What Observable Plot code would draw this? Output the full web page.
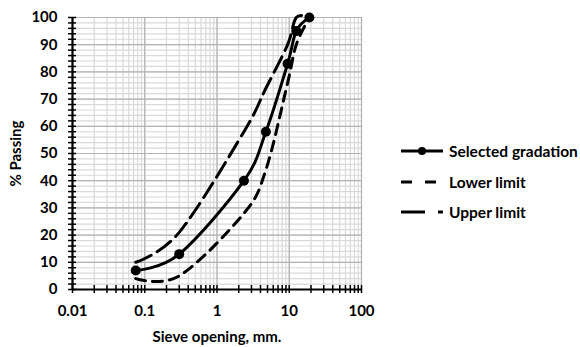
<!DOCTYPE html>
<html>
<head>
<meta charset="utf-8">
<script src="https://cdn.jsdelivr.net/npm/d3@7"></script>
<script src="https://cdn.jsdelivr.net/npm/@observablehq/plot@0.6"></script>
<style>
  html, body { margin: 0; padding: 0; background: #fff; }
  #wrap { position: relative; width: 580px; height: 347px; overflow: hidden; font-family: Lato, "Open Sans", sans-serif; }
  #legend { position: absolute; left: 400px; top: 136px; font-weight: bold; font-size: 15.5px; color: #000; }
  #legend .item { display: flex; align-items: center; height: 30.5px; white-space: nowrap; }
  #legend svg { margin-right: 5px; }
</style>
</head>
<body>
<div id="wrap"><div id="chart"></div><div id="legend"></div></div>
<script>
// Sieve sizes (mm)
const sieves = [0.075, 0.3, 2.36, 4.75, 9.5, 12.5, 19];
// % passing
const selected = [7, 13, 40, 58, 83, 95, 100];
const lower = [4, 5, 28, 44, 76, 90, 100];
const upper = [10, 21, 58, 74, 90, 100, 100];
const seriesNames = ["Selected gradation", "Lower limit", "Upper limit"];
const xTickLabels = [0.01, 0.1, 1, 10, 100];
const yTickLabels = [0, 10, 20, 30, 40, 50, 60, 70, 80, 90, 100];

const toRows = (vals) => sieves.map((s, i) => ({size: s, pass: vals[i]}));
const selRows = toRows(selected), lowRows = toRows(lower), upRows = toRows(upper);

const minorX = [];
for (let e = -2; e < 2; e++) for (let m = 1; m <= 9; m++) minorX.push(m * Math.pow(10, e));
minorX.push(100);
const majorX = xTickLabels;
const minorY = d3.range(0, 101, 2);

const chart = Plot.plot({
  width: 580,
  height: 347,
  marginLeft: 72,
  marginRight: 219,
  marginTop: 17,
  marginBottom: 58,
  style: {fontFamily: "Lato, sans-serif", fontSize: "15px", fontWeight: "bold", color: "#000", background: "#fff"},
  x: {type: "log", domain: [0.01, 100]},
  y: {domain: [0, 100]},
  marks: [
    Plot.gridX(minorX, {stroke: "#d9d9d9", strokeOpacity: 1, strokeWidth: 1.2}),
    Plot.gridY(minorY, {stroke: "#d9d9d9", strokeOpacity: 1, strokeWidth: 1.2}),
    Plot.gridX(majorX, {stroke: "#b3b3b3", strokeOpacity: 1, strokeWidth: 1.2}),
    Plot.gridY(yTickLabels, {stroke: "#b3b3b3", strokeOpacity: 1, strokeWidth: 1.2}),
    // crossing ticks
    Plot.axisX(minorX, {tickSize: 8, dy: -4, text: null, label: null, strokeWidth: 1.5, stroke: "#000"}),
    Plot.axisY(minorY, {tickSize: 8, dx: 4, text: null, label: null, strokeWidth: 1.5, stroke: "#000"}),
    Plot.axisX(xTickLabels, {tickSize: 0, tickPadding: 16, tickFormat: d => String(d), label: "Sieve opening, mm.", labelAnchor: "center", labelOffset: 52, labelArrow: "none", fontSize: 15}),
    Plot.axisY(yTickLabels, {tickSize: 0, tickPadding: 15, label: "% Passing", labelAnchor: "center", labelOffset: 62, labelArrow: "none", fontSize: 15}),
    Plot.ruleY([0], {stroke: "#000", strokeWidth: 2.2}),
    Plot.ruleX([0.01], {stroke: "#000", strokeWidth: 2.2}),
    Plot.line(lowRows, {x: "size", y: "pass", curve: "cardinal", stroke: "#000", strokeWidth: 3, strokeDasharray: "10,7"}),
    Plot.line(upRows, {x: "size", y: "pass", curve: "cardinal", stroke: "#000", strokeWidth: 3, strokeDasharray: "17,7"}),
    Plot.line(selRows, {x: "size", y: "pass", curve: "cardinal", stroke: "#000", strokeWidth: 3}),
    Plot.dot(selRows, {x: "size", y: "pass", r: 5, fill: "#000", stroke: "none"})
  ]
});
document.getElementById("chart").appendChild(chart);

// Legend
const legend = document.getElementById("legend");
const styles = [
  {dash: null, dot: true},
  {dash: "11,13", dot: false},
  {dash: "24,13", dot: false}
];
seriesNames.forEach((name, i) => {
  const item = document.createElement("div");
  item.className = "item";
  const s = styles[i];
  item.innerHTML = `<svg width="44" height="12"><line x1="1" y1="6" x2="43" y2="6" stroke="#000" stroke-width="3" ${s.dash ? `stroke-dasharray="${s.dash}"` : ""}/>${s.dot ? '<circle cx="22" cy="6" r="4" fill="#000"/>' : ""}</svg><span>${name}</span>`;
  legend.appendChild(item);
});
</script>
</body>
</html>
